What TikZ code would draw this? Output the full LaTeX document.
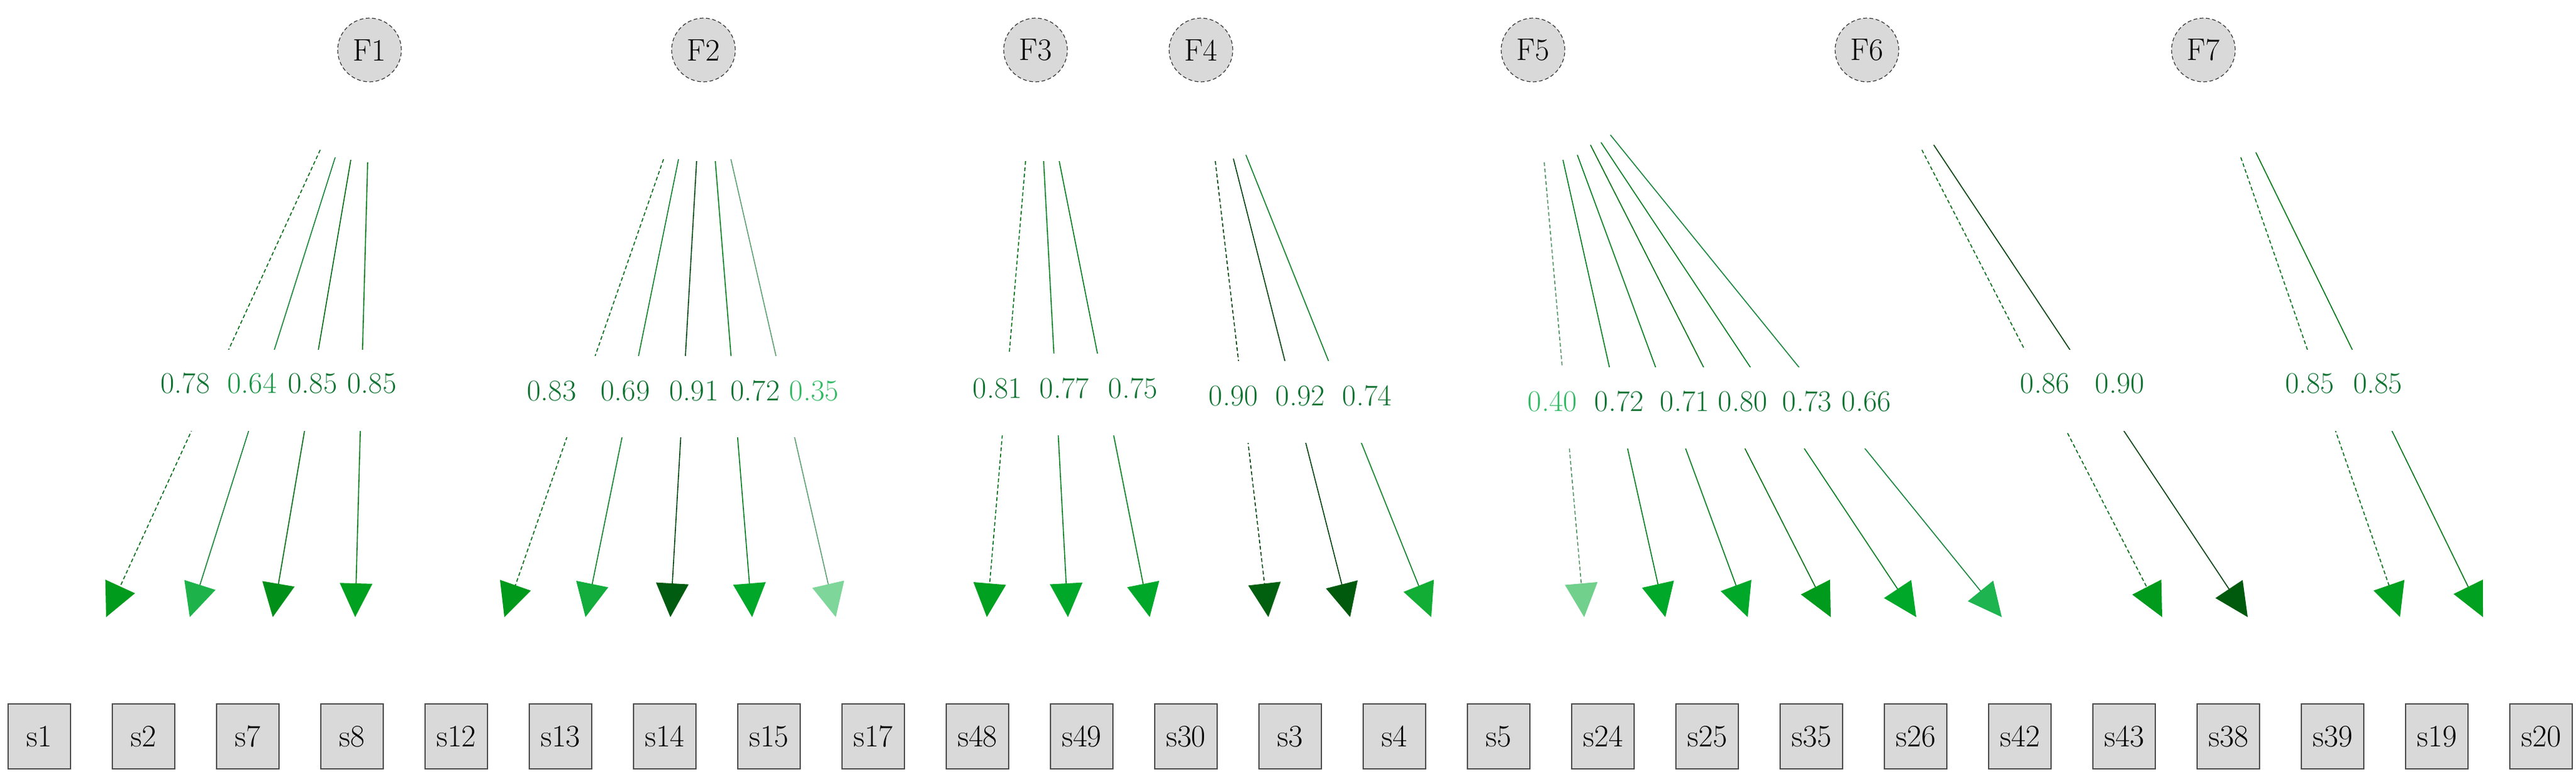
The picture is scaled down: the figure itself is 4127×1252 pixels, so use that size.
\documentclass[tikz,border=0pt]{standalone}
\usetikzlibrary{arrows.meta}
\begin{document}
\begin{tikzpicture}[x=0.5pt,y=-0.5pt,
  fac/.style={circle,draw=black!80,densely dashed,line width=0.6pt,fill=gray!30,minimum size=51pt,inner sep=0pt,font=\fontsize{25}{28}\selectfont},
  obs/.style={rectangle,draw=black!70,line width=0.9pt,fill=gray!30,minimum width=50pt,minimum height=52pt,inner sep=0pt,font=\fontsize{25}{28}\selectfont},
  lab/.style={font=\fontsize{24}{27}\selectfont,inner sep=1pt},
  band/.style={fill=white,draw=none}]
\useasboundingbox (0,0) rectangle (4127,1252);
% factors
\foreach \n/\x in {F1/592,F2/1127,F3/1659,F4/1924,F5/2456,F6/2991,F7/3530}
  \node[fac] (\n) at (\x,80) {\n};
% observed
\foreach \n [count=\i from 0] in {s1,s2,s7,s8,s12,s13,s14,s15,s17,s48,s49,s30,s3,s4,s5,s24,s25,s35,s26,s42,s43,s38,s39,s19,s20}
  \node[obs] (\n) at (63+167*\i,1179) {\n};
% loadings: id/startx/starty/tipx/arrowcolor/dash
\foreach \id/\sx/\sy/\tx/\c/\d in {
  a1/513/240/170/{0,154,28}/1, a2/537/252/304/{29,179,74}/0, a3/562/256/437/{0,144,26}/0, a4/589/260/569/{0,160,32}/0,
  b1/1063/255/808/{0,153,28}/1, b2/1087/255/938/{18,173,60}/0, b3/1116/258/1074/{0,92,16}/0, b4/1146/258/1205/{0,168,42}/0, b5/1171/255/1339/{126,214,154}/0,
  c1/1643/258/1581/{0,160,32}/1, c2/1672/258/1711/{0,168,42}/0, c3/1697/258/1842/{0,168,42}/0,
  d1/1947/258/2032/{0,96,15}/1, d2/1976/254/2163/{0,90,14}/0, d3/1996/248/2293/{18,173,53}/0,
  e1/2474/260/2538/{112,208,140}/1, e2/2504/256/2668/{0,168,42}/0, e3/2527/248/2800/{0,168,42}/0, e4/2548/232/2933/{0,154,28}/0, e5/2565/228/3070/{0,168,42}/0, e6/2580/216/3207/{30,180,80}/0,
  f1/3079/240/3464/{0,154,28}/1, f2/3098/232/3601/{0,90,14}/0,
  g1/3590/252/3845/{0,160,32}/1, g2/3614/244/3978/{0,160,32}/0}
{
  \definecolor{ac}{RGB}{\c}
  \coordinate (\id s) at (\sx,\sy);
  \coordinate (\id t) at (\tx,988);
  \ifnum\d=1
    \draw[line width=0.8pt,densely dashed,draw=ac!70!black,-{Triangle[length=27pt,width=26pt,color=ac,fill=ac]}] (\id s) -- (\id t);
  \else
    \draw[line width=0.8pt,draw=ac!75!black,-{Triangle[length=27pt,width=26pt,color=ac,fill=ac]}] (\id s) -- (\id t);
  \fi
}
% gaps around labels
\fill[band] (240,560) rectangle (660,690);
\fill[band] (780,570) rectangle (1360,700);
\fill[band] (1540,566) rectangle (1880,697);
\fill[band] (1900,578) rectangle (2320,709);
\fill[band] (2420,588) rectangle (3060,718);
\fill[band] (3200,560) rectangle (3470,690);
\fill[band] (3640,560) rectangle (3880,690);
% labels
\definecolor{lt}{RGB}{15,115,50}
\definecolor{lm}{RGB}{25,150,70}
\definecolor{ll}{RGB}{50,185,100}
\foreach \t/\x/\y/\c in {
  0.78/297/614/lt, 0.64/404/614/lm, 0.85/501/614/lt, 0.85/596/614/lt,
  0.83/884/626/lt, 0.69/1002/626/lt, 0.91/1112/626/lt, 0.72/1210/626/lt, 0.35/1304/626/ll,
  0.81/1598/622/lt, 0.77/1705/622/lt, 0.75/1815/622/lt,
  0.90/1976/634/lt, 0.92/2083/634/lt, 0.74/2190/634/lt,
  0.40/2487/643/ll, 0.72/2594/643/lt, 0.71/2699/643/lt, 0.80/2792/643/lt, 0.73/2895/643/lt, 0.66/2990/643/lt,
  0.86/3276/614/lt, 0.90/3396/614/lt,
  0.85/3700/614/lt, 0.85/3809/614/lt}
  \node[lab,text=\c] at (\x,\y) {\t};
\end{tikzpicture}
\end{document}
